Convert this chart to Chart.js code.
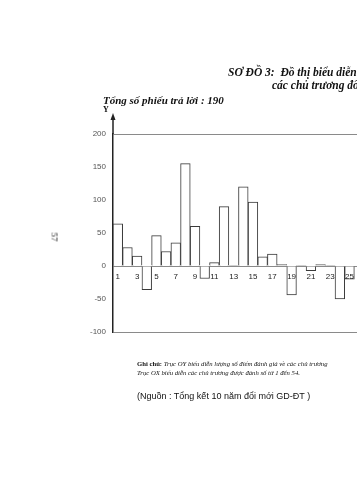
<!DOCTYPE html>
<html>
<head>
<meta charset="utf-8">
<script src="https://cdn.jsdelivr.net/npm/chart.js@4.4.1/dist/chart.umd.min.js"></script>
<style>
  html, body { margin:0; padding:0; background:#fff; width:357px; height:480px; overflow:hidden; position:relative; }
  #wrap { position:absolute; left:0; top:0; width:380px; height:480px; }
  .t { position:absolute; white-space:nowrap; color:#111; }
  .serif { font-family:"Liberation Serif","DejaVu Serif",serif; }
  .sans { font-family:"Liberation Sans","DejaVu Sans",sans-serif; }
</style>
</head>
<body>
<div id="wrap"><canvas id="c" width="380" height="480"></canvas></div>

<div class="t serif" style="left:228px;top:66px;font-size:11.5px;font-weight:bold;font-style:italic;">SƠ ĐỒ 3:&nbsp; Đồ thị biểu diễn</div>
<div class="t serif" style="left:272px;top:79px;font-size:11.5px;font-weight:bold;font-style:italic;">các chủ trương đổi</div>
<div class="t serif" style="left:103px;top:94px;font-size:11px;font-weight:bold;font-style:italic;">Tổng số phiếu trả lời : 190</div>
<div class="t serif" style="left:103px;top:105px;font-size:8px;font-weight:bold;">Y</div>
<div class="t serif" style="left:50px;top:232px;font-size:9px;transform:rotate(90deg);transform-origin:center;">57</div>
<div class="t serif" style="left:137px;top:360px;font-size:6.7px;"><b style="font-style:normal">Ghi chú:</b> <i>Trục OY biểu diễn lượng số điểm đánh giá về các chủ trương</i></div>
<div class="t serif" style="left:137px;top:369px;font-size:6.7px;font-style:italic;">Trục OX biểu diễn các chủ trương được đánh số từ 1 đến 54.</div>
<div class="t sans" style="left:137px;top:391px;font-size:9px;">(Nguồn : Tổng kết 10 năm đổi mới GD-ĐT )</div>

<script>
// Data (policies numbered 1..54; only 1..25 visible)
const categories = ['1','2','3','4','5','6','7','8','9','10','11','12','13','14','15','16','17','18','19','20','21','22','23','24','25','26'];
const scores = [64, 28, 15, -36, 46, 22, 35, 155, 60, -19, 5, 90, 1, 120, 97, 14, 18, 2, -44, 1, -7, 2, 1, -50, -20, null];
const yTicks = [-100, -50, 0, 50, 100, 150, 200];

const arrowPlugin = {
  id: 'yArrow',
  afterDraw(chart) {
    const ctx = chart.ctx;
    const x = chart.scales.y.right;
    const top = chart.chartArea.top;
    ctx.save();
    ctx.strokeStyle = '#222';
    ctx.fillStyle = '#222';
    ctx.lineWidth = 1.5;
    ctx.beginPath();
    ctx.moveTo(x, top);
    ctx.lineTo(x, top - 18);
    ctx.stroke();
    ctx.beginPath();
    ctx.moveTo(x, top - 21);
    ctx.lineTo(x - 2.5, top - 14);
    ctx.lineTo(x + 2.5, top - 14);
    ctx.closePath();
    ctx.fill();
    ctx.restore();
  }
};

new Chart(document.getElementById('c'), {
  type: 'bar',
  data: {
    labels: categories,
    datasets: [{
      data: scores,
      backgroundColor: '#ffffff',
      borderColor: '#3a3a3a',
      borderWidth: 1,
      barPercentage: 1,
      categoryPercentage: 1
    }]
  },
  options: {
    responsive: false,
    devicePixelRatio: 1,
    animation: false,
    layout: { padding: { left: 0, top: 134, right: 16, bottom: 148 } },
    plugins: { legend: { display: false }, tooltip: { enabled: false } },
    scales: {
      x: {
        type: 'category',
        position: { y: 0 },
        grid: { display: false, drawTicks: false },
        border: { display: false },
        ticks: {
          z: 1,
          autoSkip: false, maxRotation: 0, padding: 6,
          color: '#222',
          font: { family: 'Liberation Sans', size: 8 },
          callback: (v, i) => (i % 2 === 0 ? categories[i] : '')
        }
      },
      y: {
        min: -100, max: 200,
        afterBuildTicks: s => { s.ticks = yTicks.map(v => ({ value: v })); },
        afterFit: s => { s.width = 113; },
        grid: {
          drawTicks: false,
          color: c => ([200, 0, -100].includes(c.tick.value) ? '#8a8a8a' : 'rgba(0,0,0,0)'),
          lineWidth: 1
        },
        border: { display: true, color: '#222', width: 1.5, dash: [] },
        ticks: {
          padding: 7,
          color: '#555',
          font: { family: 'Liberation Sans', size: 8 }
        }
      }
    }
  },
  plugins: [arrowPlugin]
});
</script>
</body>
</html>
